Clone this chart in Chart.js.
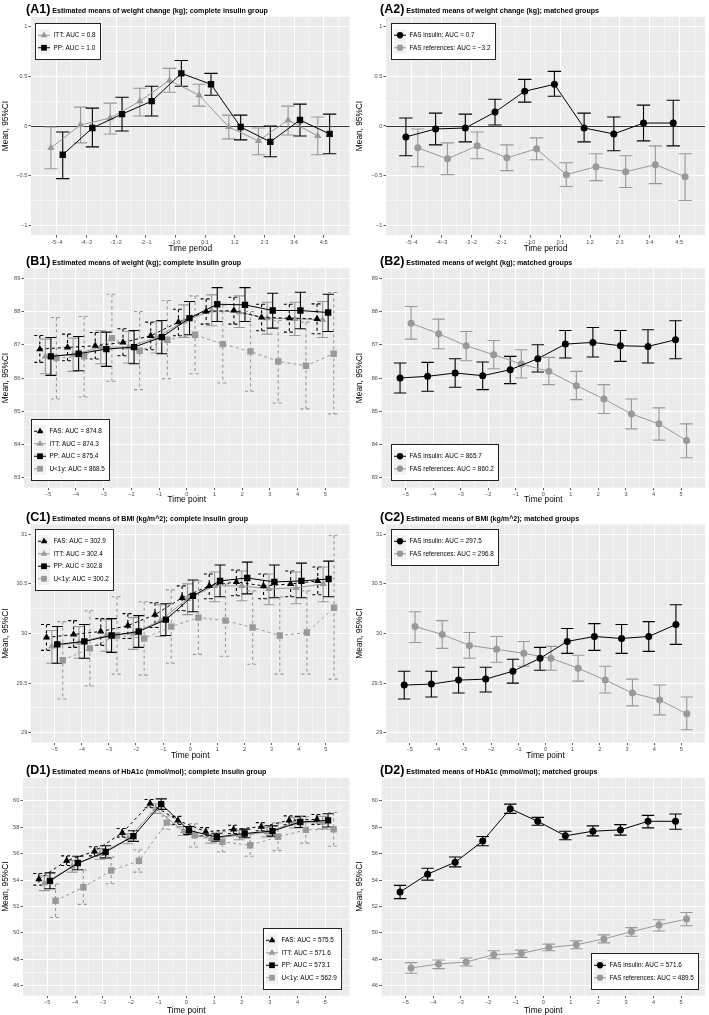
<!DOCTYPE html>
<html>
<head>
<meta charset="utf-8">
<title>Estimated means</title>
<script src="https://cdn.jsdelivr.net/npm/chart.js@4.4.1/dist/chart.umd.min.js"></script>
<style>
  html, body { margin: 0; padding: 0; background: #fff; }
  body { position: relative; width: 709px; height: 1015px; overflow: hidden; font-family: "Liberation Sans", Arial, sans-serif; }
  canvas { position: absolute; }
  .tag { position: absolute; white-space: nowrap; font-weight: bold; font-size: 12.5px; line-height: 1; color: #000; }
  .tag span { font-size: 7.1px; }
</style>
</head>
<body>
<script>
// ---- axes ----
const periods = ['-5:-4', '-4:-3', '-3:-2', '-2:-1', '-1:0', '0:1', '1:2', '2:3', '3:4', '4:5'];
const timePoints = [-5, -4, -3, -2, -1, 0, 1, 2, 3, 4, 5];

const yBreaksA = [-1, -0.5, 0, 0.5, 1];
const yBreaksB = [83, 84, 85, 86, 87, 88, 89];
const yBreaksC = [29, 29.5, 30, 30.5, 31];
const yBreaksD = [46, 48, 50, 52, 54, 56, 58, 60];

// ---- (A1) weight change, complete insulin group ----
const a1IttMean = [-0.22, 0.01, 0.08, 0.25, 0.46, 0.31, -0.01, -0.15, 0.06, -0.10];
const a1IttLo   = [-0.43, -0.17, -0.08, 0.10, 0.34, 0.20, -0.13, -0.29, -0.09, -0.29];
const a1IttHi   = [-0.01, 0.19, 0.23, 0.38, 0.58, 0.42, 0.11, -0.02, 0.20, 0.09];
const a1PpMean  = [-0.29, -0.02, 0.12, 0.25, 0.53, 0.42, -0.01, -0.16, 0.06, -0.08];
const a1PpLo    = [-0.53, -0.21, -0.05, 0.10, 0.40, 0.31, -0.14, -0.31, -0.10, -0.28];
const a1PpHi    = [-0.06, 0.18, 0.29, 0.40, 0.66, 0.53, 0.11, 0.00, 0.22, 0.12];
const a1Labels  = ['ITT: AUC = 0.8', 'PP: AUC = 1.0'];

// ---- (A2) weight change, matched groups ----
const a2InsMean = [-0.11, -0.03, -0.02, 0.14, 0.35, 0.42, -0.02, -0.08, 0.03, 0.03];
const a2InsLo   = [-0.30, -0.19, -0.16, 0.01, 0.24, 0.30, -0.16, -0.25, -0.15, -0.20];
const a2InsHi   = [0.08, 0.13, 0.12, 0.27, 0.47, 0.55, 0.13, 0.09, 0.21, 0.26];
const a2RefMean = [-0.22, -0.33, -0.20, -0.32, -0.23, -0.49, -0.41, -0.46, -0.39, -0.51];
const a2RefLo   = [-0.41, -0.49, -0.33, -0.45, -0.34, -0.61, -0.55, -0.62, -0.58, -0.75];
const a2RefHi   = [-0.03, -0.17, -0.06, -0.19, -0.12, -0.37, -0.28, -0.30, -0.20, -0.28];
const a2Labels  = ['FAS insulin: AUC = 0.7', 'FAS references: AUC = \u22123.2'];

// ---- (B1) weight, complete insulin group ----
const b1FasMean = [86.87, 86.92, 86.97, 87.07, 87.27, 87.68, 88.00, 88.03, 87.82, 87.80, 87.78];
const b1FasLo   = [86.47, 86.52, 86.57, 86.67, 86.85, 87.27, 87.62, 87.62, 87.42, 87.38, 87.33];
const b1FasHi   = [87.28, 87.32, 87.37, 87.48, 87.68, 88.07, 88.38, 88.43, 88.22, 88.22, 88.23];
const b1IttMean = [86.65, 86.70, 86.93, 86.93, 87.22, 87.70, 88.03, 87.98, 87.80, 87.78, 87.75];
const b1IttLo   = [86.13, 86.20, 86.43, 86.45, 86.75, 87.22, 87.57, 87.52, 87.32, 87.28, 87.22];
const b1IttHi   = [87.17, 87.20, 87.42, 87.40, 87.70, 88.20, 88.50, 88.47, 88.28, 88.28, 88.30];
const b1PpMean  = [86.65, 86.73, 86.87, 86.93, 87.23, 87.80, 88.22, 88.20, 88.03, 88.03, 87.97];
const b1PpLo    = [86.08, 86.22, 86.35, 86.43, 86.73, 87.30, 87.70, 87.70, 87.50, 87.48, 87.40];
const b1PpHi    = [87.22, 87.25, 87.38, 87.43, 87.73, 88.30, 88.72, 88.72, 88.55, 88.58, 88.52];
const b1U1Mean  = [86.60, 86.65, 87.20, 86.82, 87.15, 87.30, 87.02, 86.80, 86.50, 86.37, 86.73];
const b1U1Lo    = [85.37, 85.43, 85.90, 85.65, 85.98, 86.13, 85.85, 85.60, 85.25, 85.07, 84.92];
const b1U1Hi    = [87.82, 87.85, 88.52, 88.00, 88.33, 88.47, 88.20, 88.00, 87.73, 87.68, 88.57];
const b1Labels  = ['FAS: AUC = 874.8', 'ITT: AUC = 874.3', 'PP: AUC = 875.4', 'U<1y: AUC = 868.5'];

// ---- (B2) weight, matched groups ----
const b2InsMean = [86.00, 86.05, 86.15, 86.07, 86.25, 86.58, 87.02, 87.07, 86.97, 86.95, 87.15];
const b2InsLo   = [85.55, 85.60, 85.72, 85.65, 85.83, 86.18, 86.60, 86.63, 86.50, 86.45, 86.58];
const b2InsHi   = [86.45, 86.47, 86.58, 86.48, 86.65, 87.00, 87.43, 87.52, 87.43, 87.45, 87.72];
const b2RefMean = [87.65, 87.33, 86.97, 86.70, 86.42, 86.20, 85.77, 85.37, 84.92, 84.62, 84.12];
const b2RefLo   = [87.17, 86.88, 86.52, 86.28, 86.00, 85.80, 85.35, 84.93, 84.47, 84.13, 83.60];
const b2RefHi   = [88.15, 87.77, 87.40, 87.13, 86.85, 86.62, 86.20, 85.80, 85.37, 85.10, 84.62];
const b2Labels  = ['FAS insulin: AUC = 865.7', 'FAS references: AUC = 860.2'];

// ---- (C1) BMI, complete insulin group ----
const c1FasMean = [29.96, 29.99, 30.02, 30.08, 30.19, 30.36, 30.48, 30.52, 30.48, 30.50, 30.53];
const c1FasLo   = [29.83, 29.86, 29.88, 29.95, 30.06, 30.23, 30.35, 30.38, 30.35, 30.37, 30.39];
const c1FasHi   = [30.09, 30.13, 30.15, 30.20, 30.31, 30.48, 30.60, 30.64, 30.60, 30.63, 30.67];
const c1IttMean = [29.87, 29.91, 29.98, 30.00, 30.13, 30.35, 30.48, 30.48, 30.45, 30.46, 30.50];
const c1IttLo   = [29.70, 29.75, 29.82, 29.84, 29.97, 30.19, 30.32, 30.33, 30.29, 30.30, 30.32];
const c1IttHi   = [30.03, 30.07, 30.14, 30.16, 30.29, 30.50, 30.62, 30.63, 30.60, 30.62, 30.67];
const c1PpMean  = [29.89, 29.92, 29.98, 30.02, 30.14, 30.38, 30.53, 30.56, 30.52, 30.53, 30.55];
const c1PpLo    = [29.70, 29.75, 29.81, 29.86, 29.98, 30.22, 30.37, 30.40, 30.36, 30.36, 30.37];
const c1PpHi    = [30.07, 30.09, 30.15, 30.18, 30.30, 30.54, 30.69, 30.72, 30.69, 30.71, 30.73];
const c1U1Mean  = [29.73, 29.85, 29.98, 29.95, 30.07, 30.16, 30.13, 30.06, 29.98, 30.01, 30.26];
const c1U1Lo    = [29.34, 29.47, 29.59, 29.58, 29.70, 29.79, 29.77, 29.69, 29.59, 29.59, 29.54];
const c1U1Hi    = [30.12, 30.23, 30.37, 30.32, 30.44, 30.53, 30.50, 30.43, 30.37, 30.43, 30.99];
const c1Labels  = ['FAS: AUC = 302.9', 'ITT: AUC = 302.4', 'PP: AUC = 302.8', 'U<1y: AUC = 300.2'];

// ---- (C2) BMI, matched groups ----
const c2InsMean = [29.48, 29.49, 29.53, 29.54, 29.62, 29.75, 29.92, 29.97, 29.95, 29.97, 30.09];
const c2InsLo   = [29.34, 29.36, 29.40, 29.41, 29.50, 29.63, 29.80, 29.83, 29.80, 29.82, 29.89];
const c2InsHi   = [29.62, 29.62, 29.66, 29.66, 29.74, 29.86, 30.05, 30.10, 30.09, 30.12, 30.29];
const c2RefMean = [30.07, 29.99, 29.88, 29.84, 29.80, 29.75, 29.65, 29.53, 29.40, 29.33, 29.19];
const c2RefLo   = [29.91, 29.85, 29.75, 29.71, 29.67, 29.63, 29.52, 29.40, 29.27, 29.18, 29.03];
const c2RefHi   = [30.22, 30.13, 30.01, 29.97, 29.92, 29.87, 29.78, 29.67, 29.54, 29.48, 29.36];
const c2Labels  = ['FAS insulin: AUC = 297.5', 'FAS references: AUC = 296.8'];

// ---- (D1) HbA1c, complete insulin group ----
const d1FasMean = [54.07, 55.47, 56.18, 57.58, 59.80, 58.52, 57.66, 57.84, 58.04, 58.52, 58.60];
const d1FasLo   = [53.62, 55.10, 55.83, 57.25, 59.48, 58.22, 57.35, 57.53, 57.73, 58.18, 58.22];
const d1FasHi   = [54.50, 55.83, 56.52, 57.90, 60.10, 58.82, 57.97, 58.15, 58.35, 58.86, 58.97];
const d1IttMean = [53.77, 55.04, 55.98, 57.12, 59.41, 57.71, 57.12, 57.40, 57.63, 58.35, 58.35];
const d1IttLo   = [53.20, 54.60, 55.58, 56.75, 59.05, 57.38, 56.80, 57.05, 57.27, 57.95, 57.88];
const d1IttHi   = [54.32, 55.48, 56.38, 57.50, 59.78, 58.05, 57.45, 57.75, 57.98, 58.75, 58.82];
const d1PpMean  = [53.94, 55.29, 56.13, 57.33, 59.75, 57.76, 57.25, 57.53, 57.71, 58.40, 58.52];
const d1PpLo    = [53.35, 54.78, 55.68, 56.93, 59.35, 57.46, 56.95, 57.20, 57.33, 57.98, 58.02];
const d1PpHi    = [54.55, 55.80, 56.60, 57.73, 60.15, 58.06, 57.55, 57.86, 58.10, 58.82, 59.02];
const d1U1Mean  = [52.44, 53.46, 54.73, 55.45, 58.35, 57.38, 56.90, 56.64, 57.28, 57.80, 57.84];
const d1U1Lo    = [51.17, 52.16, 53.72, 54.60, 57.85, 56.50, 56.13, 55.80, 56.23, 56.80, 56.56];
const d1U1Hi    = [53.71, 54.76, 55.74, 56.30, 58.85, 58.26, 57.67, 57.48, 58.33, 58.80, 59.12];
const d1Labels  = ['FAS: AUC = 575.5', 'ITT: AUC = 571.6', 'PP: AUC = 573.1', 'U<1y: AUC = 562.9'];

// ---- (D2) HbA1c, matched groups ----
const d2InsMean = [53.10, 54.45, 55.35, 56.95, 59.40, 58.45, 57.35, 57.70, 57.80, 58.45, 58.45];
const d2InsLo   = [52.60, 54.00, 55.00, 56.60, 59.05, 58.15, 57.05, 57.35, 57.40, 57.95, 57.85];
const d2InsHi   = [53.60, 54.90, 55.75, 57.30, 59.75, 58.75, 57.70, 58.10, 58.20, 58.90, 59.00];
const d2RefMean = [47.35, 47.65, 47.80, 48.35, 48.45, 48.90, 49.10, 49.55, 50.10, 50.60, 51.05];
const d2RefLo   = [46.95, 47.30, 47.50, 48.05, 48.15, 48.65, 48.80, 49.25, 49.75, 50.15, 50.55];
const d2RefHi   = [47.75, 47.95, 48.10, 48.65, 48.70, 49.15, 49.40, 49.85, 50.40, 51.00, 51.55];
const d2Labels  = ['FAS insulin: AUC = 571.6', 'FAS references: AUC = 489.5'];

// ---- look ----
const FONT = '"Liberation Sans", Arial, sans-serif';
const BLACK = '#000000', GREY = '#999999';
Chart.defaults.font.family = FONT;

const LOOK = {
  FAS: { color: BLACK, shape: 'triangle', radius: 4.2, dash: [3, 3] },
  ITT: { color: GREY, shape: 'triangle', radius: 4.2, dash: [] },
  PP:  { color: BLACK, shape: 'rect', radius: 4.5, dash: [] },
  U1:  { color: GREY, shape: 'rect', radius: 4.5, dash: [3, 3] },
  INS: { color: BLACK, shape: 'circle', radius: 3.5, dash: [] },
  REF: { color: GREY, shape: 'circle', radius: 3.5, dash: [] }
};

// page geometry (px); canvases may overlap, they are transparent
const COLS = [{ x: 0, w: 354, right: 350 }, { x: 354, w: 355, right: 351 }];
const ROWS = [
  { y: 0, top: 16.8, bottom: 235.2, xh: 18 },
  { y: 252, top: 268.3, bottom: 487.7, xh: 17 },
  { y: 506, top: 524.4, bottom: 742.6, xh: 18 },
  { y: 758, top: 777.7, bottom: 995.7, xh: 19.8 }
];

const periodIdx = periods.map((p, i) => i);
const minus = v => (v < 0 ? '\u2212' : '') + Math.abs(v);

function four(fas, itt, pp, u1, labels) {
  return [
    { look: 'FAS', dodge: -0.3, cap: 0.4, label: labels[0], mean: fas[0], lo: fas[1], hi: fas[2] },
    { look: 'ITT', dodge: -0.1, cap: 0.4, label: labels[1], mean: itt[0], lo: itt[1], hi: itt[2] },
    { look: 'PP', dodge: 0.1, cap: 0.4, label: labels[2], mean: pp[0], lo: pp[1], hi: pp[2] },
    { look: 'U1', dodge: 0.3, cap: 0.4, label: labels[3], mean: u1[0], lo: u1[1], hi: u1[2] }
  ];
}
function two(ins, ref, labels) {
  return [
    { look: 'INS', dodge: -0.2, cap: 0.45, label: labels[0], mean: ins[0], lo: ins[1], hi: ins[2] },
    { look: 'REF', dodge: 0.2, cap: 0.45, label: labels[1], mean: ref[0], lo: ref[1], hi: ref[2] }
  ];
}

const timeAxis = { x: timePoints, breaks: timePoints, range: [-5.87, 5.87], fmt: minus, title: 'Time point' };
const periodAxis = { x: periodIdx, breaks: periodIdx, range: [-0.87, 9.87], fmt: v => periods[v], title: 'Time period' };

const panels = [
  { col: 0, row: 0, yw: 31, tag: '(A1)', title: 'Estimated means of weight change (kg); complete insulin group',
    xa: periodAxis, yRange: [-1.1, 1.1], yBreaks: yBreaksA, zero: true, legend: { corner: 'tl', dx: 4, dy: 6 },
    series: [
      { look: 'ITT', dodge: -0.2, cap: 0.45, label: a1Labels[0], mean: a1IttMean, lo: a1IttLo, hi: a1IttHi },
      { look: 'PP', dodge: 0.2, cap: 0.45, label: a1Labels[1], mean: a1PpMean, lo: a1PpLo, hi: a1PpHi }
    ] },
  { col: 1, row: 0, yw: 32, tag: '(A2)', title: 'Estimated means of weight change (kg); matched groups',
    xa: periodAxis, yRange: [-1.1, 1.1], yBreaks: yBreaksA, zero: true, legend: { corner: 'tl', dx: 5, dy: 6 },
    series: two([a2InsMean, a2InsLo, a2InsHi], [a2RefMean, a2RefLo, a2RefHi], a2Labels) },
  { col: 0, row: 1, yw: 24, tag: '(B1)', title: 'Estimated means of weight (kg); complete insulin group',
    xa: timeAxis, yRange: [82.7, 89.3], yBreaks: yBreaksB, legend: { corner: 'bl', dx: 7, dy: 7 },
    series: four([b1FasMean, b1FasLo, b1FasHi], [b1IttMean, b1IttLo, b1IttHi], [b1PpMean, b1PpLo, b1PpHi], [b1U1Mean, b1U1Lo, b1U1Hi], b1Labels) },
  { col: 1, row: 1, yw: 27.6, tag: '(B2)', title: 'Estimated means of weight (kg); matched groups',
    xa: timeAxis, yRange: [82.7, 89.3], yBreaks: yBreaksB, legend: { corner: 'bl', dx: 9, dy: 7 },
    series: two([b2InsMean, b2InsLo, b2InsHi], [b2RefMean, b2RefLo, b2RefHi], b2Labels) },
  { col: 0, row: 2, yw: 31, tag: '(C1)', title: 'Estimated means of BMI (kg/m^2); complete insulin group',
    xa: timeAxis, yRange: [28.9, 31.1], yBreaks: yBreaksC, legend: { corner: 'tl', dx: 4, dy: 5 },
    series: four([c1FasMean, c1FasLo, c1FasHi], [c1IttMean, c1IttLo, c1IttHi], [c1PpMean, c1PpLo, c1PpHi], [c1U1Mean, c1U1Lo, c1U1Hi], c1Labels) },
  { col: 1, row: 2, yw: 32, tag: '(C2)', title: 'Estimated means of BMI (kg/m^2); matched groups',
    xa: timeAxis, yRange: [28.9, 31.1], yBreaks: yBreaksC, legend: { corner: 'tl', dx: 5, dy: 5 },
    series: two([c2InsMean, c2InsLo, c2InsHi], [c2RefMean, c2RefLo, c2RefHi], c2Labels) },
  { col: 0, row: 3, yw: 23, tag: '(D1)', title: 'Estimated means of HbA1c (mmol/mol); complete insulin group',
    xa: timeAxis, yRange: [45.25, 61.75], yBreaks: yBreaksD, legend: { corner: 'br', dx: 8, dy: 6 },
    series: four([d1FasMean, d1FasLo, d1FasHi], [d1IttMean, d1IttLo, d1IttHi], [d1PpMean, d1PpLo, d1PpHi], [d1U1Mean, d1U1Lo, d1U1Hi], d1Labels) },
  { col: 1, row: 3, yw: 27.6, tag: '(D2)', title: 'Estimated means of HbA1c (mmol/mol); matched groups',
    xa: timeAxis, yRange: [45.25, 61.75], yBreaks: yBreaksD, legend: { corner: 'br', dx: 6, dy: 6 },
    series: two([d2InsMean, d2InsLo, d2InsHi], [d2RefMean, d2RefLo, d2RefHi], d2Labels) }
];

// ---- plugins ----
const panelBackground = {
  id: 'panelBackground',
  beforeDraw(chart) {
    const { ctx, chartArea: a } = chart;
    ctx.save();
    ctx.fillStyle = '#EBEBEB';
    ctx.fillRect(a.left, a.top, a.right - a.left, a.bottom - a.top);
    ctx.restore();
  }
};

const zeroLine = {
  id: 'zeroLine',
  beforeDatasetsDraw(chart, args, opts) {
    if (!opts.show) return;
    const { ctx, chartArea: a, scales: { y } } = chart;
    const py = Math.round(y.getPixelForValue(0)) + 0.5;
    ctx.save();
    ctx.strokeStyle = '#333333';
    ctx.lineWidth = 1;
    ctx.beginPath();
    ctx.moveTo(a.left, py);
    ctx.lineTo(a.right, py);
    ctx.stroke();
    ctx.restore();
  }
};

const errorBars = {
  id: 'errorBars',
  beforeDatasetsDraw(chart) {
    const { ctx, scales: { x, y } } = chart;
    chart.data.datasets.forEach(ds => {
      ctx.save();
      ctx.strokeStyle = ds.borderColor;
      ctx.lineWidth = 1.1;
      ctx.setLineDash(ds.borderDash);
      ds.data.forEach((pt, i) => {
        const px = x.getPixelForValue(pt.x);
        const w = x.getPixelForValue(pt.x + ds.cap / 2) - px;
        const yl = y.getPixelForValue(ds.lo[i]);
        const yh = y.getPixelForValue(ds.hi[i]);
        ctx.beginPath();
        ctx.moveTo(px - w, yh); ctx.lineTo(px + w, yh);
        ctx.moveTo(px, yh); ctx.lineTo(px, yl);
        ctx.moveTo(px - w, yl); ctx.lineTo(px + w, yl);
        ctx.stroke();
      });
      ctx.restore();
    });
  }
};

function marker(ctx, shape, r, x, y) {
  ctx.beginPath();
  if (shape === 'circle') {
    ctx.arc(x, y, r, 0, Math.PI * 2);
  } else if (shape === 'rect') {
    const h = r * Math.SQRT1_2;
    ctx.rect(x - h, y - h, 2 * h, 2 * h);
  } else {
    for (let k = 0; k < 3; k++) {
      const a = k * 2 * Math.PI / 3;
      const fx = x + Math.sin(a) * r, fy = y - Math.cos(a) * r;
      if (k === 0) ctx.moveTo(fx, fy); else ctx.lineTo(fx, fy);
    }
    ctx.closePath();
  }
  ctx.fill();
}

const boxLegend = {
  id: 'boxLegend',
  afterDraw(chart, args, opts) {
    const { ctx, chartArea: a } = chart;
    const items = chart.data.datasets.slice().sort((p, q) => p.rank - q.rank);
    const rowH = 12.5;
    ctx.save();
    ctx.font = '6.4px ' + FONT;
    const tw = Math.max(...items.map(d => ctx.measureText(d.label).width));
    const w = Math.round(18.5 + tw + 5.5), h = Math.round(12 + rowH * items.length);
    const bx = Math.round(opts.corner[1] === 'l' ? a.left + opts.dx : a.right - opts.dx - w);
    const by = Math.round(opts.corner[0] === 't' ? a.top + opts.dy : a.bottom - opts.dy - h);
    ctx.fillStyle = '#FFFFFF';
    ctx.fillRect(bx, by, w, h);
    ctx.strokeStyle = '#222222';
    ctx.lineWidth = 1;
    ctx.strokeRect(bx + 0.5, by + 0.5, w - 1, h - 1);
    items.forEach((d, i) => {
      const cy = by + 6 + rowH * i + rowH / 2;
      const kx = bx + 9;
      ctx.fillStyle = '#F2F2F2';
      ctx.fillRect(kx - 6, cy - rowH / 2, 12, rowH);
      ctx.strokeStyle = d.borderColor;
      ctx.lineWidth = 1;
      ctx.setLineDash(d.borderDash);
      ctx.beginPath();
      ctx.moveTo(kx - 6, cy);
      ctx.lineTo(kx + 6, cy);
      ctx.stroke();
      ctx.setLineDash([]);
      ctx.fillStyle = d.borderColor;
      marker(ctx, d.pointStyle, d.pointRadius * 0.9, kx, cy);
      ctx.fillStyle = '#000000';
      ctx.textBaseline = 'middle';
      ctx.textAlign = 'left';
      ctx.fillText(d.label, bx + 18.5, cy);
    });
    ctx.restore();
  }
};

function minorBreaks(breaks, range) {
  const step = breaks[1] - breaks[0];
  const out = [];
  for (let v = breaks[0] - step / 2; v <= breaks[breaks.length - 1] + step / 2 + 1e-9; v += step) {
    if (v >= range[0] && v <= range[1]) out.push(+v.toFixed(4));
  }
  return out;
}

function scaleOptions(axisId, range, breaks, fmt, title, size) {
  const major = new Set(breaks);
  const all = breaks.concat(minorBreaks(breaks, range)).sort((p, q) => p - q);
  const isMajor = c => c.tick && major.has(c.tick.value);
  return {
    type: 'linear',
    position: axisId === 'x' ? 'bottom' : 'left',
    min: range[0],
    max: range[1],
    afterBuildTicks: s => { s.ticks = all.map(v => ({ value: v })); },
    afterFit: s => { if (axisId === 'x') s.height = size; else s.width = size; },
    border: { display: false },
    grid: {
      color: '#FFFFFF',
      lineWidth: c => isMajor(c) ? 1 : 0.5,
      drawTicks: true,
      tickLength: 2.5,
      tickWidth: 0.8,
      tickColor: c => isMajor(c) ? '#333333' : 'rgba(0,0,0,0)'
    },
    ticks: {
      autoSkip: false, maxRotation: 0, minRotation: 0, padding: 1.2,
      color: '#4D4D4D', font: { size: 5.6 },
      callback: v => major.has(v) ? fmt(v) : ''
    },
    title: { display: true, text: title, color: '#000000', font: { size: 8.3 }, padding: { top: 0.8, bottom: 0 } }
  };
}

// ---- build ----
panels.forEach(p => {
  const col = COLS[p.col], row = ROWS[p.row];
  const height = Math.ceil(row.bottom - row.y + row.xh);

  const canvas = document.createElement('canvas');
  canvas.width = col.w;
  canvas.height = height;
  canvas.style.left = col.x + 'px';
  canvas.style.top = row.y + 'px';
  document.body.appendChild(canvas);

  const head = document.createElement('div');
  head.className = 'tag';
  head.style.left = (col.x + 26) + 'px';
  head.style.top = (row.top - 3 - 10.6) + 'px';
  const tagText = document.createElement('b');
  tagText.textContent = p.tag;
  const sub = document.createElement('span');
  sub.textContent = ' ' + p.title;
  head.appendChild(tagText);
  head.appendChild(sub);
  document.body.appendChild(head);

  const datasets = p.series.map((s, k) => {
    const lk = LOOK[s.look];
    return {
      label: s.label,
      rank: k,
      data: p.xa.x.map((x, i) => ({ x: x + s.dodge, y: s.mean[i] })),
      lo: s.lo, hi: s.hi, cap: s.cap,
      borderColor: lk.color, backgroundColor: lk.color,
      borderWidth: 1, borderDash: lk.dash,
      pointStyle: lk.shape, pointRadius: lk.radius, pointHoverRadius: lk.radius,
      pointBorderWidth: 0, pointBackgroundColor: lk.color,
      tension: 0, fill: false,
      order: lk.color === BLACK ? 0 : 1
    };
  });

  new Chart(canvas, {
    type: 'line',
    data: { datasets },
    options: {
      responsive: false,
      animation: false,
      devicePixelRatio: 1,
      layout: {
        padding: {
          top: row.top - row.y,
          bottom: height - (row.bottom - row.y) - row.xh,
          left: 0,
          right: col.w - col.right
        }
      },
      plugins: {
        legend: { display: false },
        tooltip: { enabled: false },
        zeroLine: { show: !!p.zero },
        boxLegend: p.legend
      },
      scales: {
        x: scaleOptions('x', p.xa.range, p.xa.breaks, p.xa.fmt, p.xa.title, row.xh),
        y: scaleOptions('y', p.yRange, p.yBreaks, minus, 'Mean, 95%CI', p.yw)
      }
    },
    plugins: [panelBackground, zeroLine, errorBars, boxLegend]
  });
});
</script>
</body>
</html>
